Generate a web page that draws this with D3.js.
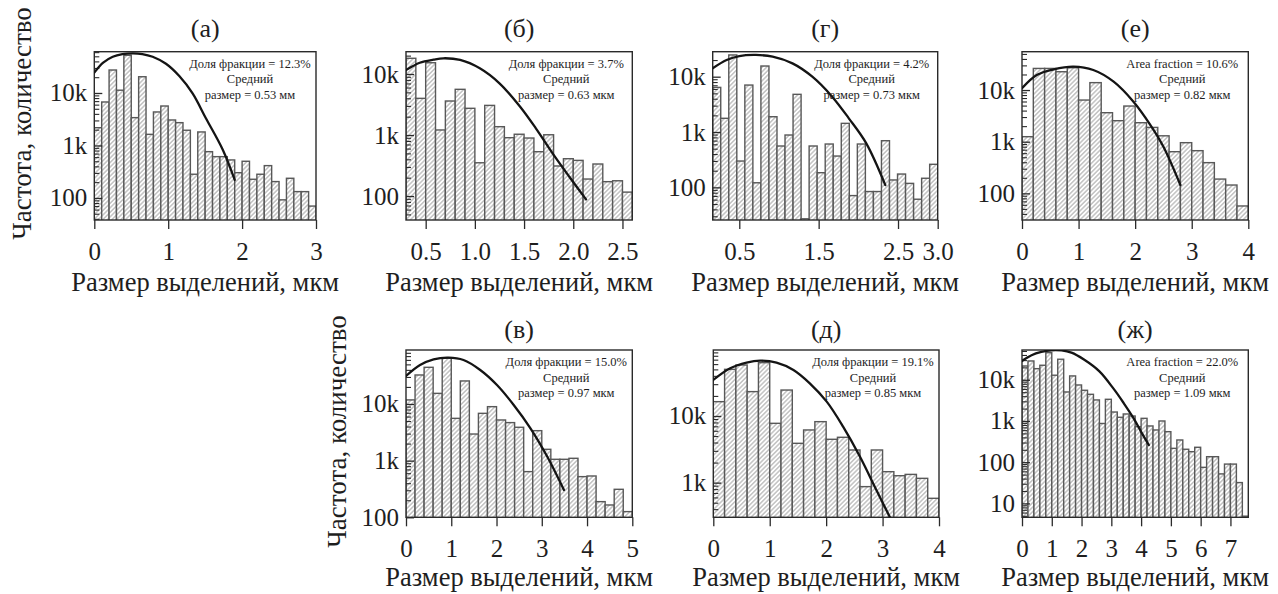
<!DOCTYPE html>
<html>
<head>
<meta charset="utf-8">
<script src="https://cdn.jsdelivr.net/npm/d3@7"></script>
<style>
  html, body { margin: 0; padding: 0; background: #fff; }
  svg { display: block; }
  text { font-family: "Liberation Serif", "Times New Roman", serif; fill: #1e1e1e; }
</style>
</head>
<body>
<svg id="chart" width="1278" height="594"></svg>
<script>
// ---------- Data: particle size histograms (counts per bin) and fitted size distributions ----------

// (а)
const countsA = [2180, 6740, 27400, 11300, 52300, 3390, 20400, 1630, 4350, 5650, 3060, 2720, 1950, 283, 1810,
                 762, 612, 612, 530, 303, 500, 227, 283, 413, 205, 92, 237, 132, 132, 70];
const binsA = [0, 0.1];               // first bin edge, bin width (мкм)
const fitA = [[0, 24400], [0.12, 37800], [0.25, 49000], [0.38, 55000], [0.52, 57000], [0.65, 55300],
              [0.79, 49000], [0.97, 36000], [1.15, 21000], [1.33, 9800], [1.51, 3300], [1.74, 820], [1.9, 220]];
const xDomainA = [0, 3];
const yDomainA = [38, 61200];
const xTicksA = [0, 1, 2, 3];
const yTicksA = [100, 1000, 10000];
const noteA = ["Доля фракции = 12.3%", "Средний", "размер = 0.53 мм"];

// (б)
const countsB = [18100, 3990, 15300, 1210, 3610, 5610, 2740, 351, 3060, 1370, 904, 1030, 893, 533, 1010,
                 311, 409, 384, 190, 335, 172, 178, 116];
const binsB = [0.3, 0.1];
const fitB = [[0.3, 11600], [0.44, 15300], [0.58, 17200], [0.68, 18100], [0.85, 17000], [1.05, 12400],
              [1.25, 7040], [1.46, 2910], [1.62, 1285], [1.79, 500], [1.96, 207], [2.13, 88]];
const xDomainB = [0.3, 2.6];
const yDomainB = [40.5, 23200];
const xTicksB = [0.5, 1.0, 1.5, 2.0, 2.5];
const yTicksB = [100, 1000, 10000];
const noteB = ["Доля фракции = 3.7%", "Средний", "размер = 0.63 мкм"];

// (г)
const countsG = [6410, 1770, 24700, 299, 7060, 121, 15600, 1890, 559, 883, 4800, 27, 559, 184, 607,
                 368, 1435, 71, 607, 84, 84, 697, 136, 174, 118, 61, 146, 261];
const binsG = [0.165, 0.10125];
const fitG = [[0.165, 14200], [0.34, 20000], [0.5, 23600], [0.71, 24700], [0.92, 23000], [1.17, 17400],
              [1.42, 10000], [1.67, 4360], [1.88, 1770], [2.1, 624], [2.34, 110]];
const xDomainG = [0.165, 3.0];
const yDomainG = [25.7, 28300];
const xTicksG = [0.5, 1.5, 2.5, 3.0];
const yTicksG = [100, 1000, 10000];
const noteG = ["Доля фракции = 4.2%", "Средний", "размер = 0.73 мкм"];

// (е)
const countsE = [1250, 26200, 26200, 22600, 27000, 6400, 13900, 3640, 2550, 4900, 2330, 1890, 1300, 640, 957,
                 670, 393, 189, 145, 57];
const binsE = [0, 0.2];
const fitE = [[0, 10800], [0.26, 19500], [0.56, 25100], [0.91, 28300], [1.26, 24400], [1.62, 14500],
              [1.97, 5940], [2.27, 2100], [2.5, 800], [2.8, 145]];
const xDomainE = [0, 4];
const yDomainE = [30.5, 55200];
const xTicksE = [0, 1, 2, 3, 4];
const yTicksE = [100, 1000, 10000];
const noteE = ["Area fraction = 10.6%", "Средний", "размер = 0.82 мкм"];

// (в)
const countsV = [11800, 32500, 44400, 15400, 64000, 5580, 25500, 2950, 6840, 8970, 5220, 4690, 3880, 640, 3380,
                 1585, 1056, 1056, 1100, 522, 536, 189, 165, 312, 126];
const binsV = [0, 0.2];
const fitV = [[0, 31200], [0.31, 48700], [0.61, 61400], [0.94, 65700], [1.27, 59700], [1.64, 39800],
              [2.01, 21600], [2.38, 9600], [2.75, 3720], [3.12, 1180], [3.49, 303]];
const xDomainV = [0, 5];
const yDomainV = [100, 89700];
const xTicksV = [0, 1, 2, 3, 4, 5];
const yTicksV = [100, 1000, 10000];
const noteV = ["Доля фракции = 15.0%", "Средний", "размер = 0.97 мкм"];

// (д)
const countsD = [16400, 50100, 58200, 23200, 63100, 7760, 24500, 3890, 6170, 8220, 4470, 4790, 3090, 871, 3090,
                 1460, 1270, 1330, 1160, 582];
const binsD = [0, 0.2];
const fitD = [[0, 34700], [0.3, 51900], [0.59, 63100], [0.83, 67600], [1.12, 63100], [1.42, 49000],
              [1.71, 30900], [2.01, 16400], [2.3, 6920], [2.6, 2450], [2.89, 776], [3.13, 302]];
const xDomainD = [0, 4];
const yDomainD = [302, 97700];
const xTicksD = [0, 1, 2, 3, 4];
const yTicksD = [1000, 10000];
const noteD = ["Доля фракции = 19.1%", "Средний", "размер = 0.85 мкм"];

// (ж)
const countsZ = [21600, 28600, 18600, 22500, 45500, 12900, 31500, 5060, 12400, 7480, 5560, 4440, 3240, 870, 3360,
                 1650, 1230, 1480, 1320, 728, 1160, 757, 605, 1000, 550, 217, 346, 206, 180, 230,
                 75, 136, 136, 52, 90, 90, 32, 4.9];
const binsZ = [0, 0.2];
const fitZ = [[0, 28600], [0.32, 39400], [0.65, 47300], [0.99, 52000], [1.33, 51400], [1.66, 45500],
              [2.08, 31000], [2.6, 16000], [3.08, 6000], [3.42, 2690], [3.75, 1160], [4.03, 500], [4.26, 261]];
const xDomainZ = [0, 7.6];
const yDomainZ = [4.6, 52800];
const xTicksZ = [0, 1, 2, 3, 4, 5, 6, 7];
const yTicksZ = [10, 100, 1000, 10000];
const noteZ = ["Area fraction = 22.0%", "Средний", "размер = 1.09 мкм"];

const xAxisTitle = "Размер выделений, мкм";
const yAxisTitle = "Частота, количество";

// ---------- Layout (plot frames in px: left, right, top, bottom) ----------
const ROW1 = { top: 51.7, bottom: 220, title: 36.5, tickBase: 40, xTitle: 291, yTitleX: 31, yTitleY: 123.5 };
const ROW2 = { top: 350, bottom: 517.3, title: 338, tickBase: 40, xTitle: 586, yTitleX: 346, yTitleY: 431.5 };

const fmtInt = d3.format("d");
const fmt1 = d3.format(".1f");

const panels = [
  { id: "a", title: "(а)", row: ROW1, left: 94.3, right: 316, counts: countsA, bins: binsA, fit: fitA,
    xDomain: xDomainA, yDomain: yDomainA, xTicks: xTicksA, yTicks: yTicksA, note: noteA, xFmt: fmtInt, yTitle: true },
  { id: "b", title: "(б)", row: ROW1, left: 406, right: 632.3, counts: countsB, bins: binsB, fit: fitB,
    xDomain: xDomainB, yDomain: yDomainB, xTicks: xTicksB, yTicks: yTicksB, note: noteB, xFmt: fmt1 },
  { id: "g", title: "(г)", row: ROW1, left: 712.7, right: 937.7, counts: countsG, bins: binsG, fit: fitG,
    xDomain: xDomainG, yDomain: yDomainG, xTicks: xTicksG, yTicks: yTicksG, note: noteG, xFmt: fmt1 },
  { id: "e", title: "(е)", row: ROW1, left: 1022, right: 1248.3, counts: countsE, bins: binsE, fit: fitE,
    xDomain: xDomainE, yDomain: yDomainE, xTicks: xTicksE, yTicks: yTicksE, note: noteE, xFmt: fmtInt },
  { id: "v", title: "(в)", row: ROW2, left: 406, right: 632.3, counts: countsV, bins: binsV, fit: fitV,
    xDomain: xDomainV, yDomain: yDomainV, xTicks: xTicksV, yTicks: yTicksV, note: noteV, xFmt: fmtInt, yTitle: true },
  { id: "d", title: "(д)", row: ROW2, left: 713.3, right: 939, counts: countsD, bins: binsD, fit: fitD,
    xDomain: xDomainD, yDomain: yDomainD, xTicks: xTicksD, yTicks: yTicksD, note: noteD, xFmt: fmtInt },
  { id: "z", title: "(ж)", row: ROW2, left: 1022, right: 1248.3, counts: countsZ, bins: binsZ, fit: fitZ,
    xDomain: xDomainZ, yDomain: yDomainZ, xTicks: xTicksZ, yTicks: yTicksZ, note: noteZ, xFmt: fmtInt }
];

const svg = d3.select("#chart");
const defs = svg.append("defs");

// Diagonal hatch fill for histogram bars
const hatch = defs.append("pattern")
  .attr("id", "hatch")
  .attr("patternUnits", "userSpaceOnUse")
  .attr("width", 3.2).attr("height", 3.2)
  .attr("patternTransform", "rotate(45)");
hatch.append("rect").attr("width", 3.2).attr("height", 3.2).attr("fill", "#ffffff");
hatch.append("line").attr("x1", 0.8).attr("y1", 0).attr("x2", 0.8).attr("y2", 3.2)
  .attr("stroke", "#a0a0a0").attr("stroke-width", 0.95);

function yLabel(v) {
  if (v >= 1000) return (v / 1000) + "k";
  return String(v);
}

function minorTicks(domain, majors) {
  const out = [];
  const lo = Math.floor(Math.log10(domain[0]));
  const hi = Math.ceil(Math.log10(domain[1]));
  for (let n = lo; n <= hi; n++) {
    for (let m = 2; m <= 9; m++) {
      const v = m * Math.pow(10, n);
      if (v > domain[0] && v < domain[1] && !majors.includes(v)) out.push(v);
    }
  }
  return out;
}

function drawPanel(p) {
  const top = p.row.top, bottom = p.row.bottom;
  const x = d3.scaleLinear().domain(p.xDomain).range([p.left, p.right]);
  const y = d3.scaleLog().domain(p.yDomain).range([bottom, top]);
  const g = svg.append("g").attr("class", "panel-" + p.id);

  const clipId = "clip-" + p.id;
  defs.append("clipPath").attr("id", clipId)
    .append("rect")
    .attr("x", p.left).attr("y", top)
    .attr("width", p.right - p.left).attr("height", bottom - top);

  // histogram bars
  const bars = p.counts.map((c, i) => ({
    x0: p.bins[0] + i * p.bins[1],
    x1: p.bins[0] + (i + 1) * p.bins[1],
    c
  }));
  g.append("g").attr("clip-path", `url(#${clipId})`)
    .selectAll("rect").data(bars).join("rect")
    .attr("x", d => x(d.x0))
    .attr("width", d => x(d.x1) - x(d.x0))
    .attr("y", d => y(d.c))
    .attr("height", d => Math.max(0, bottom - y(d.c) + 2))
    .attr("fill", "url(#hatch)")
    .attr("stroke", "#585858")
    .attr("stroke-width", 1.4);

  // minor y ticks (inward)
  const minor = minorTicks(p.yDomain, p.yTicks);
  g.append("g").attr("transform", `translate(${p.left},0)`)
    .call(d3.axisLeft(y).tickValues(minor).tickSize(-5).tickFormat(""))
    .call(a => a.select(".domain").remove())
    .call(a => a.selectAll("line").attr("stroke", "#2a2a2a").attr("stroke-width", 1.1));

  // major y ticks + labels
  g.append("g").attr("transform", `translate(${p.left},0)`)
    .call(d3.axisLeft(y).tickValues(p.yTicks).tickSize(-8).tickPadding(7).tickFormat(yLabel))
    .call(a => a.select(".domain").remove())
    .call(a => a.selectAll("line").attr("stroke", "#2a2a2a").attr("stroke-width", 1.3))
    .call(a => a.attr("font-family", null).attr("font-size", null))
    .call(a => a.selectAll("text").attr("font-size", 25).attr("fill", "#1e1e1e"));

  // x ticks + labels
  g.append("g").attr("transform", `translate(0,${bottom})`)
    .call(d3.axisBottom(x).tickValues(p.xTicks).tickSize(9).tickFormat(p.xFmt))
    .call(a => a.select(".domain").remove())
    .call(a => a.selectAll("line").attr("stroke", "#2a2a2a").attr("stroke-width", 1.3))
    .call(a => a.attr("font-family", null).attr("font-size", null))
    .call(a => a.selectAll("text").attr("font-size", 25).attr("y", p.row.tickBase).attr("dy", 0).attr("fill", "#1e1e1e"));

  // frame
  g.append("rect")
    .attr("x", p.left).attr("y", top)
    .attr("width", p.right - p.left).attr("height", bottom - top)
    .attr("fill", "none").attr("stroke", "#2a2a2a").attr("stroke-width", 1.4);

  // fitted distribution
  const line = d3.line()
    .x(d => x(d[0]))
    .y(d => y(d[1]))
    .curve(d3.curveCatmullRom.alpha(0.5));
  g.append("path").datum(p.fit)
    .attr("clip-path", `url(#${clipId})`)
    .attr("d", line)
    .attr("fill", "none")
    .attr("stroke", "#141414")
    .attr("stroke-width", 2.3)
    .attr("stroke-linecap", "round");

  // inset note
  const note = g.append("text")
    .attr("text-anchor", "middle")
    .attr("font-size", 12.5);
  p.note.forEach((s, i) => {
    note.append("tspan")
      .attr("x", p.right - 66)
      .attr("y", top + 16 + i * 15.5)
      .text(s);
  });

  // panel title
  g.append("text")
    .attr("x", (p.left + p.right) / 2)
    .attr("y", p.row.title)
    .attr("text-anchor", "middle")
    .attr("font-size", 26)
    .text(p.title);

  // x axis title
  g.append("text")
    .attr("x", (p.left + p.right) / 2)
    .attr("y", p.row.xTitle)
    .attr("text-anchor", "middle")
    .attr("font-size", 26.5)
    .text(xAxisTitle);

  // y axis title
  if (p.yTitle) {
    g.append("text")
      .attr("transform", `translate(${p.row.yTitleX},${p.row.yTitleY}) rotate(-90)`)
      .attr("text-anchor", "middle")
      .attr("font-size", 27)
      .text(yAxisTitle);
  }
}

panels.forEach(drawPanel);
</script>
</body>
</html>
